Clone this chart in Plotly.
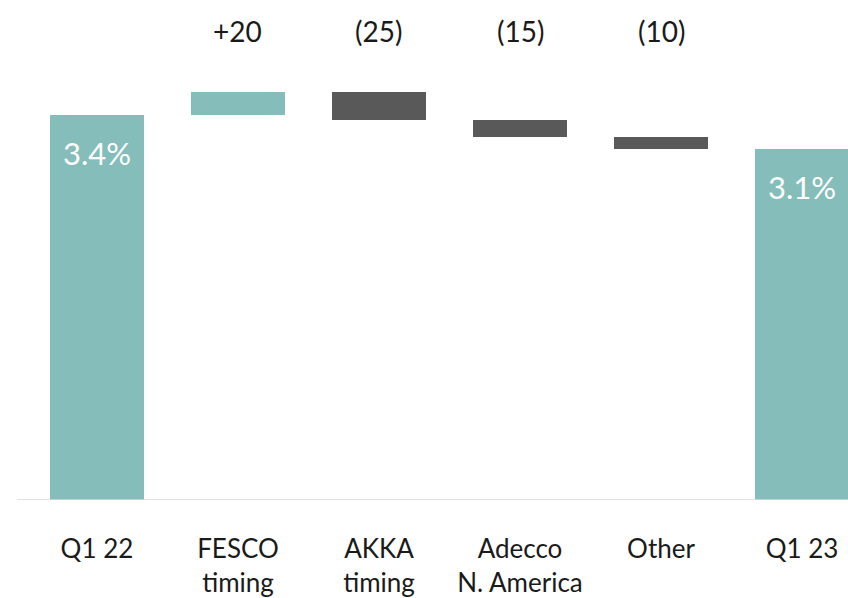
import plotly.graph_objects as go

categories = ["Q1 22", "FESCO<br>timing", "AKKA<br>timing", "Adecco<br>N. America", "Other", "Q1 23"]
start_value = 3.4
end_value = 3.1
deltas_bps = [20, -25, -15, -10]
delta_labels = ["+20", "(25)", "(15)", "(10)"]
total_labels = ["3.4%", "3.1%"]

TEAL = "#84BDBA"
GREY = "#595959"
FONT = "Lato"

# build bars
x = list(range(len(categories)))
bases, heights, colors = [], [], []
bases.append(0); heights.append(start_value); colors.append(TEAL)
level = start_value
for d in deltas_bps:
    dv = d / 100.0
    if dv >= 0:
        bases.append(level); heights.append(dv); colors.append(TEAL)
    else:
        bases.append(level + dv); heights.append(-dv); colors.append(GREY)
    level += dv
bases.append(0); heights.append(end_value); colors.append(TEAL)

fig = go.Figure()
fig.add_trace(go.Bar(
    x=x, y=heights, base=bases, marker=dict(color=colors, line=dict(width=0)),
    width=0.667, hoverinfo="skip", showlegend=False,
))

annotations = []
# totals labels inside bars
for xi, val, lab in [(0, start_value, total_labels[0]), (len(categories) - 1, end_value, total_labels[1])]:
    annotations.append(dict(x=xi, y=val, text=lab, showarrow=False, yanchor="top", yshift=-17,
                            font=dict(family=FONT, size=31, color="white")))
# delta labels at top
for i, lab in enumerate(delta_labels):
    annotations.append(dict(x=i + 1, y=1, yref="paper", text=lab, showarrow=False, yanchor="middle",
                            yshift=-31, font=dict(family=FONT, size=28, color="#1a1a1a")))

fig.update_layout(
    width=848, height=598,
    margin=dict(l=17, r=0, t=0, b=98),
    paper_bgcolor="white", plot_bgcolor="white",
    bargap=0,
    annotations=annotations,
    xaxis=dict(range=[-0.567, 5.326], tickvals=x, ticktext=categories, showgrid=False, zeroline=False,
               showline=False, ticks="", ticklabelstandoff=31,
               tickfont=dict(family=FONT, size=26, color="#1a1a1a")),
    yaxis=dict(range=[0, 4.41], visible=False, showgrid=False, zeroline=False),
    shapes=[dict(type="line", xref="paper", yref="y", x0=0, x1=1, y0=0, y1=0,
                 line=dict(color="#d9d9d9", width=1.5))],
)

fig.write_html("out.html")
